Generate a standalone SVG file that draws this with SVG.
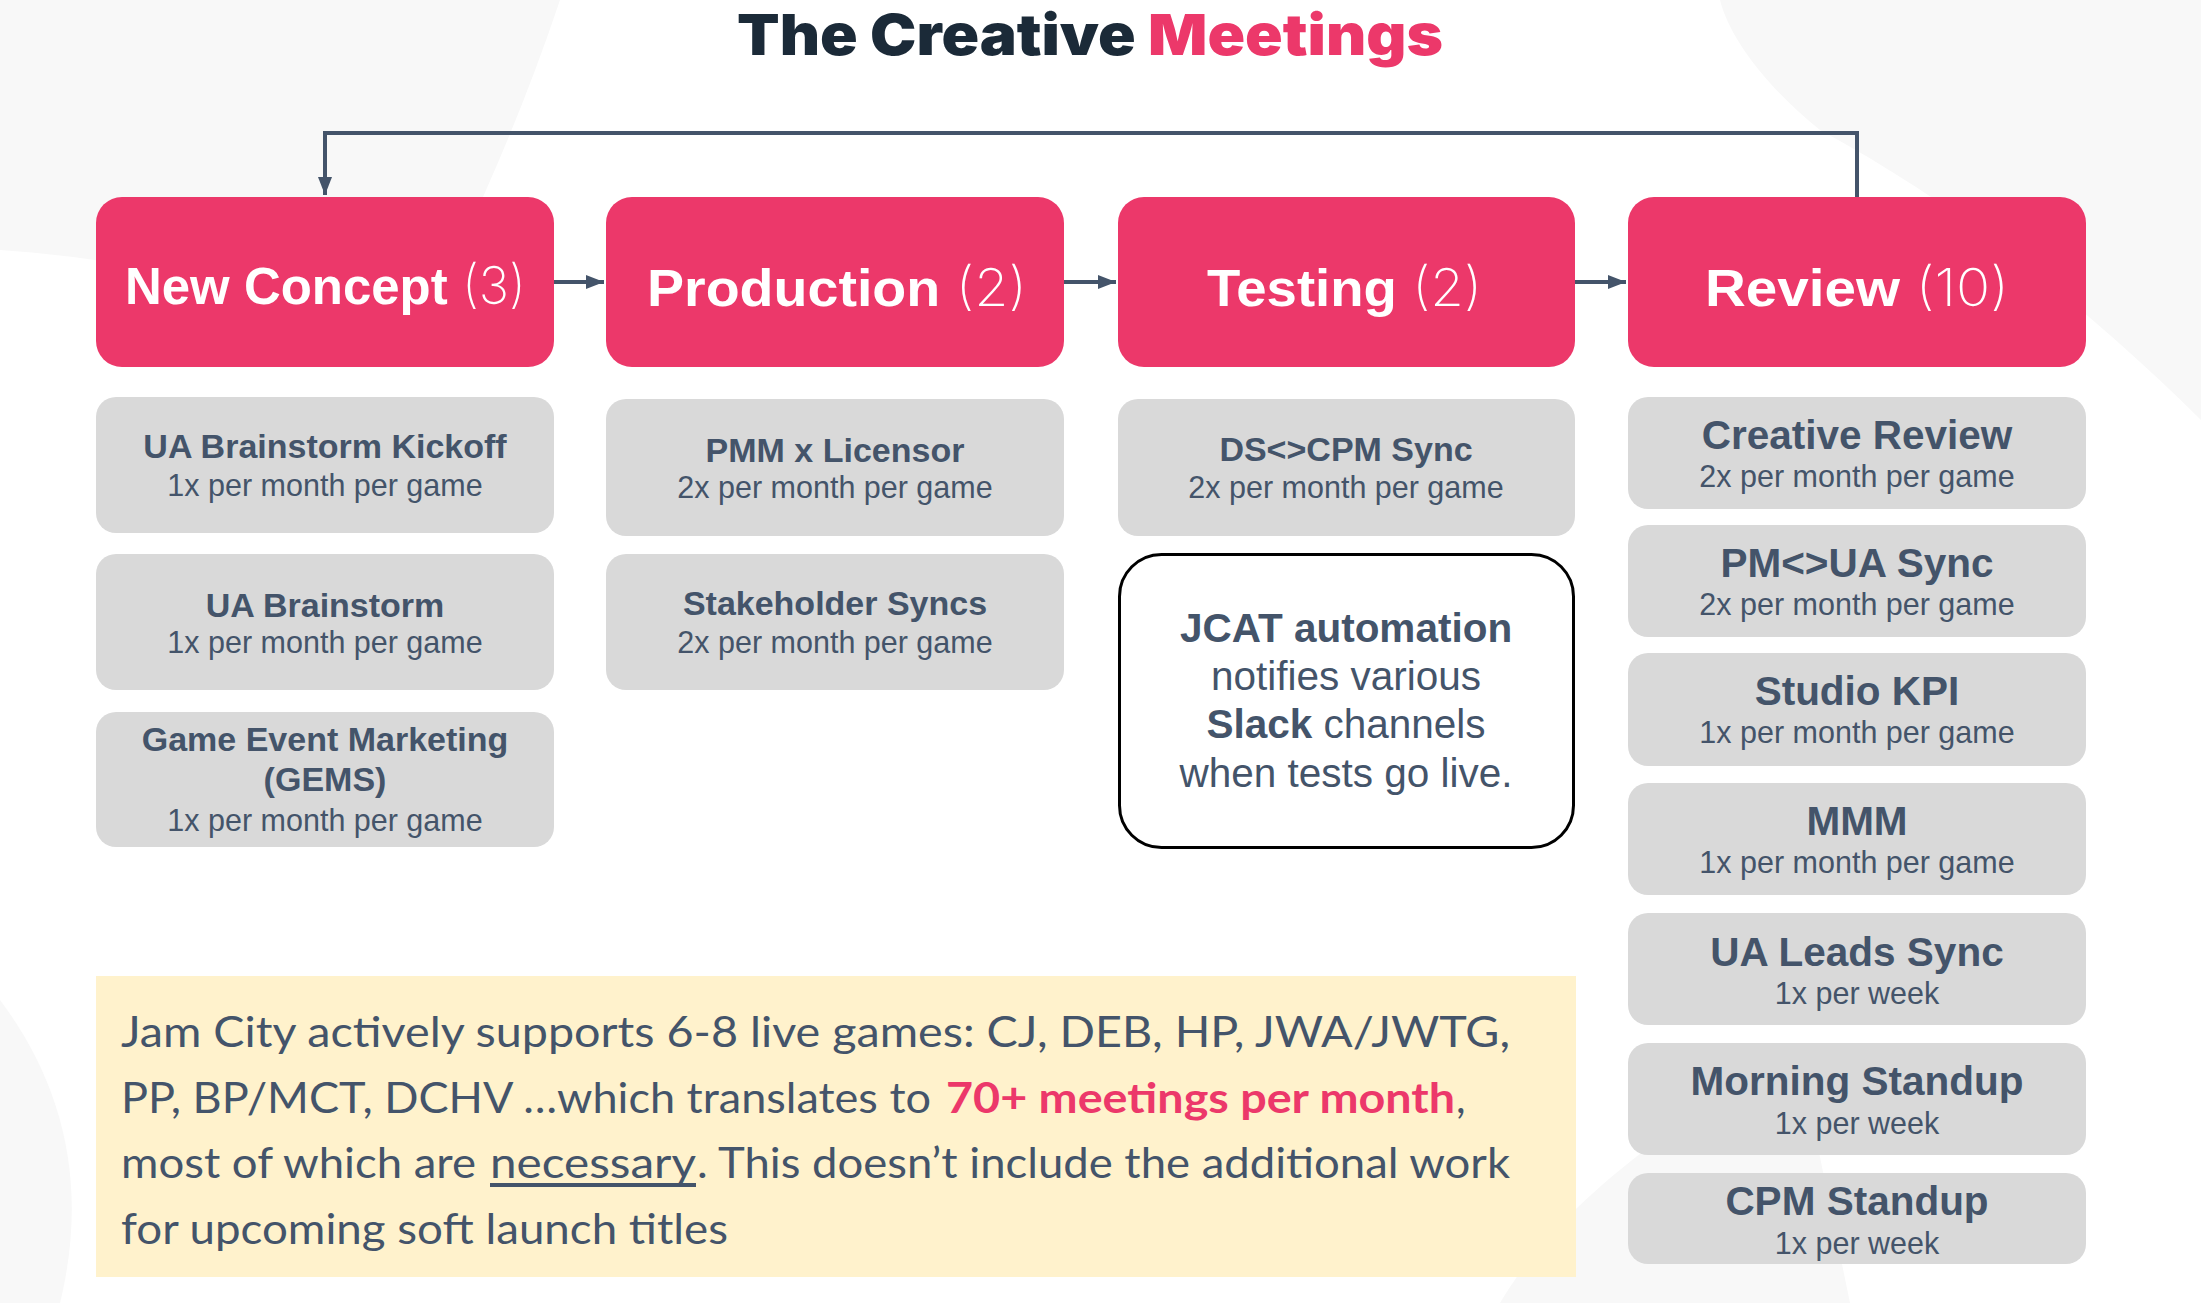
<svg xmlns="http://www.w3.org/2000/svg" width="2201" height="1303" viewBox="0 0 2201 1303">
<defs>
<style>
.stage{fill:#ec386a}
.card{fill:#d9d9d9}
.stitle{font-family:"Liberation Sans",Arial,sans-serif;font-weight:700;font-size:52px;fill:#ffffff}
.scount{font-family:"Inter","Liberation Sans",sans-serif;font-weight:200;fill:#ffffff}
.t1{font-family:"Liberation Sans",Arial,sans-serif;font-weight:700;font-size:34px;fill:#44546a;text-anchor:middle}
.t2{font-family:"Liberation Sans",Arial,sans-serif;font-weight:700;font-size:40.5px;fill:#44546a;text-anchor:middle}
.sub{font-family:"Liberation Sans",Arial,sans-serif;font-size:30.5px;fill:#44546a;text-anchor:middle}
.jc{font-family:"Liberation Sans",Arial,sans-serif;font-size:40.5px;fill:#44546a;text-anchor:middle}
.note{font-family:"Lato","Liberation Sans",sans-serif;font-size:42px;fill:#44546a}
.conn{fill:none;stroke:#44546a;stroke-width:4}
.bg{fill:#f8f8f8}
</style>
<marker id="ah" markerWidth="18" markerHeight="14" refX="18" refY="7" orient="auto" markerUnits="userSpaceOnUse">
<path d="M0,0 L18,7 L0,14 Z" fill="#44546a"/>
</marker>
</defs>
<rect width="2201" height="1303" fill="#ffffff"/>
<g id="background">
<path class="bg" d="M0,0 L560,0 C520,120 470,230 420,330 C300,300 150,260 0,250 Z"/>
<path class="bg" d="M1720,0 L2201,0 L2201,420 C2080,300 1950,200 1820,130 C1770,90 1730,40 1720,0 Z"/>
<path class="bg" d="M1500,1303 C1560,1200 1700,1100 1800,1060 L1850,1303 Z"/>
<path class="bg" d="M0,1000 C60,1080 90,1180 60,1303 L0,1303 Z"/>
</g>
<g id="title">
<text x="737" y="55" textLength="706" lengthAdjust="spacingAndGlyphs" font-family="Inter,'Liberation Sans',sans-serif" font-weight="900" font-size="57"><tspan fill="#1b2a38">The Creative </tspan><tspan fill="#ec386a">Meetings</tspan></text>
</g>
<g id="connectors">
<path class="conn" d="M1857,197 L1857,133 L325,133 L325,195" marker-end="url(#ah)"/>
<path class="conn" d="M554,282 L604,282" marker-end="url(#ah)"/>
<path class="conn" d="M1064,282 L1116,282" marker-end="url(#ah)"/>
<path class="conn" d="M1575,282 L1626,282" marker-end="url(#ah)"/>
</g>
<g id="stage-new-concept">
<rect class="stage" x="96" y="197" width="458" height="170" rx="26"/>
<text class="stitle" x="125" y="304" textLength="401" lengthAdjust="spacingAndGlyphs">New Concept<tspan class="scount"> (3)</tspan></text>
</g>
<g id="stage-production">
<rect class="stage" x="606" y="197" width="458" height="170" rx="26"/>
<text class="stitle" x="647" y="306" textLength="380" lengthAdjust="spacingAndGlyphs">Production<tspan class="scount"> (2)</tspan></text>
</g>
<g id="stage-testing">
<rect class="stage" x="1118" y="197" width="457" height="170" rx="26"/>
<text class="stitle" x="1207" y="306" textLength="275" lengthAdjust="spacingAndGlyphs">Testing<tspan class="scount"> (2)</tspan></text>
</g>
<g id="stage-review">
<rect class="stage" x="1628" y="197" width="458" height="170" rx="26"/>
<text class="stitle" x="1705" y="306" textLength="304" lengthAdjust="spacingAndGlyphs">Review<tspan class="scount"> (10)</tspan></text>
</g>
<g id="ua-brainstorm-kickoff">
<rect class="card" x="96" y="397" width="458" height="136" rx="20"/>
<text class="t1" x="325" y="458">UA Brainstorm Kickoff</text>
<text class="sub" x="325" y="496">1x per month per game</text>
</g>
<g id="ua-brainstorm">
<rect class="card" x="96" y="554" width="458" height="136" rx="20"/>
<text class="t1" x="325" y="617">UA Brainstorm</text>
<text class="sub" x="325" y="653">1x per month per game</text>
</g>
<g id="gems">
<rect class="card" x="96" y="712" width="458" height="135" rx="20"/>
<text class="t1" x="325" y="751">Game Event Marketing</text>
<text class="t1" x="325" y="791">(GEMS)</text>
<text class="sub" x="325" y="831">1x per month per game</text>
</g>
<g id="pmm-licensor">
<rect class="card" x="606" y="399" width="458" height="137" rx="20"/>
<text class="t1" x="835" y="462">PMM x Licensor</text>
<text class="sub" x="835" y="498">2x per month per game</text>
</g>
<g id="stakeholder-syncs">
<rect class="card" x="606" y="554" width="458" height="136" rx="20"/>
<text class="t1" x="835" y="615">Stakeholder Syncs</text>
<text class="sub" x="835" y="653">2x per month per game</text>
</g>
<g id="ds-cpm-sync">
<rect class="card" x="1118" y="399" width="457" height="137" rx="20"/>
<text class="t1" x="1346" y="461">DS&lt;&gt;CPM Sync</text>
<text class="sub" x="1346" y="498">2x per month per game</text>
</g>
<g id="jcat-automation">
<rect x="1119.5" y="554.5" width="454" height="293" rx="42" fill="#ffffff" stroke="#000000" stroke-width="3"/>
<text class="jc" x="1346" y="642" font-weight="700">JCAT automation</text>
<text class="jc" x="1346" y="690">notifies various</text>
<text class="jc" x="1346" y="738"><tspan font-weight="700">Slack</tspan> channels</text>
<text class="jc" x="1346" y="787">when tests go live.</text>
</g>
<g id="creative-review">
<rect class="card" x="1628" y="397" width="458" height="112" rx="20"/>
<text class="t2" x="1857" y="449">Creative Review</text>
<text class="sub" x="1857" y="487">2x per month per game</text>
</g>
<g id="pm-ua-sync">
<rect class="card" x="1628" y="525" width="458" height="112" rx="20"/>
<text class="t2" x="1857" y="577">PM&lt;&gt;UA Sync</text>
<text class="sub" x="1857" y="615">2x per month per game</text>
</g>
<g id="studio-kpi">
<rect class="card" x="1628" y="653" width="458" height="113" rx="20"/>
<text class="t2" x="1857" y="705">Studio KPI</text>
<text class="sub" x="1857" y="743">1x per month per game</text>
</g>
<g id="mmm">
<rect class="card" x="1628" y="783" width="458" height="112" rx="20"/>
<text class="t2" x="1857" y="835">MMM</text>
<text class="sub" x="1857" y="873">1x per month per game</text>
</g>
<g id="ua-leads-sync">
<rect class="card" x="1628" y="913" width="458" height="112" rx="20"/>
<text class="t2" x="1857" y="966">UA Leads Sync</text>
<text class="sub" x="1857" y="1004">1x per week</text>
</g>
<g id="morning-standup">
<rect class="card" x="1628" y="1043" width="458" height="112" rx="20"/>
<text class="t2" x="1857" y="1095">Morning Standup</text>
<text class="sub" x="1857" y="1134">1x per week</text>
</g>
<g id="cpm-standup">
<rect class="card" x="1628" y="1173" width="458" height="91" rx="20"/>
<text class="t2" x="1857" y="1215">CPM Standup</text>
<text class="sub" x="1857" y="1254">1x per week</text>
</g>
<g id="note">
<rect x="96" y="976" width="1480" height="301" fill="#fff2cc"/>
<text class="note" x="121" y="1047" textLength="1389" lengthAdjust="spacingAndGlyphs">Jam City actively supports 6-8 live games: CJ, DEB, HP, JWA/JWTG,</text>
<text class="note" x="121" y="1113" textLength="810" lengthAdjust="spacingAndGlyphs">PP, BP/MCT, DCHV …which translates to</text>
<text class="note" x="946" y="1113" textLength="509" lengthAdjust="spacingAndGlyphs" style="fill:#ec386a;font-weight:700">70+ meetings per month</text>
<text class="note" x="1456" y="1113">,</text>
<text class="note" x="121" y="1178" textLength="355" lengthAdjust="spacingAndGlyphs">most of which are</text>
<text class="note" x="490" y="1178" textLength="206" lengthAdjust="spacingAndGlyphs">necessary</text>
<rect x="490" y="1183" width="206" height="4" fill="#44546a"/>
<text class="note" x="697" y="1178" textLength="813" lengthAdjust="spacingAndGlyphs">. This doesn’t include the additional work</text>
<text class="note" x="121" y="1244" textLength="607" lengthAdjust="spacingAndGlyphs">for upcoming soft launch titles</text>
</g>
</svg>
